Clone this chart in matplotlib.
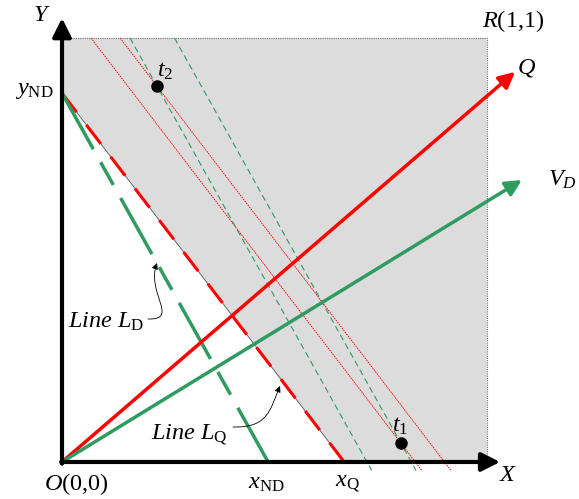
import matplotlib.pyplot as plt
from matplotlib.patches import Polygon, FancyArrowPatch
from matplotlib.path import Path

# Geometry (unit square O(0,0)-R(1,1))
Y_ND = 0.870          # common y intercept of L_Q and L_D
X_Q = 0.664           # x intercept of L_Q
X_ND = 0.485          # x intercept of L_D
T1 = (0.797, 0.045)
T2 = (0.223, 0.887)
Q_TIP = (1.066, 0.920)
VD_TIP = (1.082, 0.665)

RED = '#FF0000'
GREEN = '#2E9B5F'
GRAY = '#DCDCDC'

plt.rcParams['mathtext.fontset'] = 'custom'
plt.rcParams['mathtext.rm'] = 'Liberation Serif'
plt.rcParams['mathtext.it'] = 'Liberation Serif:italic'
plt.rcParams['font.family'] = 'Liberation Serif'

fig = plt.figure(figsize=(5.79, 4.99), dpi=100)
ax = fig.add_axes([0, 0, 1, 1])
ax.set_xlim(-0.1459, 1.2165)
ax.set_ylim(-0.0873, 1.0896)
ax.axis('off')


def pd(px, py):
    # pixel position on the 579x499 canvas -> data coords (for leader curves)
    return ((px - 62) / 425, (462 - py) / 424)


# shaded area above L_Q
region = Polygon([(0, Y_ND), (0, 1), (1, 1), (1, 0), (X_Q, 0)],
                 closed=True, facecolor=GRAY, edgecolor='none', zorder=1)
ax.add_patch(region)
ax.plot([0, 1, 1], [1, 1, 0], color='#777777', lw=0.8, ls=(0, (1, 1)), zorder=2)
ax.plot([0, X_Q], [Y_ND, 0], color='#555555', lw=0.6, zorder=2)

# parallels through t1 and t2
m_q = -Y_ND / X_Q
m_d = -Y_ND / X_ND
for (tx, ty) in (T1, T2):
    for m, col, ls, lw in ((m_q, RED, (0, (2, 1)), 0.6), (m_d, GREEN, (0, (5.5, 3.5)), 0.8)):
        x_top = tx + (1 - ty) / m
        y_end = -0.02
        x_bot = tx + (y_end - ty) / m
        ax.plot([x_top, x_bot], [1, y_end], color=col, lw=lw, ls=ls, zorder=3)

# L_Q and L_D
ax.plot([0, X_Q], [Y_ND, 0], color=RED, lw=2.2, ls=(0, (7.85, 5.25)), zorder=4)
ax.plot([0, X_ND], [Y_ND, 0], color=GREEN, lw=2.5, ls=(0, (18.5, 4.3, 7.5, 4.3)), zorder=4)

# direction vectors Q and V_D
for tip, col in ((Q_TIP, RED), (VD_TIP, GREEN)):
    ax.annotate('', xy=tip, xytext=(0, 0),
                arrowprops=dict(arrowstyle='-|>', color=col, lw=2.5,
                                mutation_scale=24, shrinkA=0, shrinkB=0),
                zorder=5)

# coordinate axes
ax.annotate('', xy=(1.031, 0), xytext=(-0.002, 0),
            arrowprops=dict(arrowstyle='-|>', color='black', lw=3,
                            mutation_scale=28, shrinkA=0, shrinkB=0), zorder=6)
ax.annotate('', xy=(0, 1.047), xytext=(0, -0.004),
            arrowprops=dict(arrowstyle='-|>', color='black', lw=3,
                            mutation_scale=28, shrinkA=0, shrinkB=0), zorder=6)

# points
ax.plot([T1[0], T2[0]], [T1[1], T2[1]], 'o', color='black', ms=8, zorder=7)

fs = 17.5
ax.text(-0.047, 1.054, '$Y$', fontsize=fs, ha='center', va='center')
ax.text(-0.021, 0.877, r'$y_{\rm ND}$', fontsize=fs, ha='right', va='center')
ax.text(1.061, 1.040, r'$R$(1,1)', fontsize=fs, ha='center', va='center')
ax.text(1.071, 0.929, '$Q$', fontsize=fs, ha='left', va='center')
ax.text(1.143, 0.665, '$V_D$', fontsize=fs, ha='left', va='center')
ax.text(0.035, -0.052, r'$O$(0,0)', fontsize=fs, ha='center', va='center')
ax.text(0.480, -0.050, r'$x_{\rm ND}$', fontsize=fs, ha='center', va='center')
ax.text(0.673, -0.050, r'$x_{\rm Q}$', fontsize=fs, ha='center', va='center')
ax.text(1.050, -0.031, '$X$', fontsize=fs, ha='center', va='center')
ax.text(0.242, 0.922, r'$t_{\mathit{2}}$', fontsize=fs, ha='center', va='center')
ax.text(0.795, 0.085, r'$t_{\mathit{1}}$', fontsize=fs, ha='center', va='center')

# line labels with curved leaders
ax.text(0.104, 0.330, r'$\mathit{Line}\ L_{\rm D}$', fontsize=fs, ha='center', va='center')
ax.text(0.299, 0.064, r'$\mathit{Line}\ L_{\rm Q}$', fontsize=fs, ha='center', va='center')

leaders = [
    [(148, 319), (180, 320), (146, 293), (157, 263)],
    [(233, 427), (268, 428), (270, 410), (280, 386)],
]
for pts in leaders:
    path = Path([pd(*p) for p in pts],
                [Path.MOVETO, Path.CURVE4, Path.CURVE4, Path.CURVE4])
    ax.add_patch(FancyArrowPatch(path=path, arrowstyle='-|>', color='black',
                                 lw=0.6, mutation_scale=9, zorder=8))

fig.savefig('out.png', dpi=100)
